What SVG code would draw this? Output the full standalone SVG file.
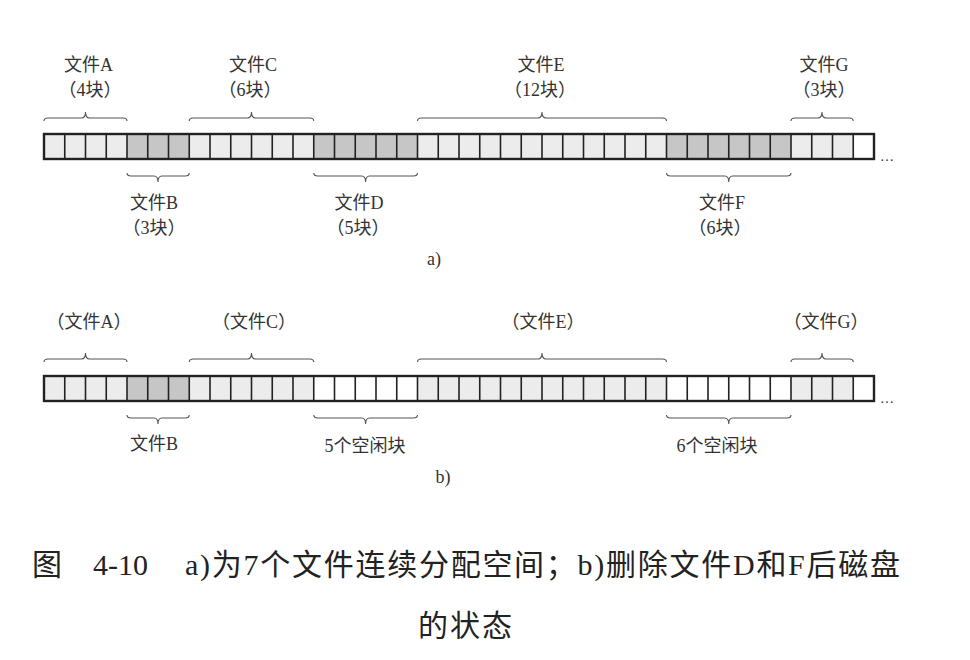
<svg xmlns="http://www.w3.org/2000/svg" width="970" height="660" viewBox="0 0 970 660">
<style>
.t{font-family:"Liberation Serif","Noto Sans CJK SC",serif;font-size:18px;fill:#333;text-anchor:middle}
.cap{font-family:"Liberation Serif","Noto Sans CJK SC",serif;font-size:30px;fill:#222}
.lt{fill:#ececec}.dk{fill:#c6c6c6}.wh{fill:#fff}
.div{stroke:#222;stroke-width:1.6;fill:none}
.out{stroke:#222;stroke-width:2.4;fill:none}
.br{stroke:#555;stroke-width:1.1;fill:none}
</style>
<rect width="970" height="660" fill="#fff"/>

<!-- strip a -->
<g id="strip-a">
<rect id="a-A" class="lt" x="44" y="134" width="83" height="25"/>
<rect id="a-B" class="dk" x="127" y="134" width="62.25" height="25"/>
<rect id="a-C" class="lt" x="189.25" y="134" width="124.5" height="25"/>
<rect id="a-D" class="dk" x="313.75" y="134" width="103.75" height="25"/>
<rect id="a-E" class="lt" x="417.5" y="134" width="249" height="25"/>
<rect id="a-F" class="dk" x="666.5" y="134" width="124.5" height="25"/>
<rect id="a-G" class="lt" x="791" y="134" width="62.25" height="25"/>
<rect id="a-free" class="wh" x="853.25" y="134" width="20.75" height="25"/>
<path class="div" d="M64.75,134V159M85.5,134V159M106.25,134V159M127,134V159M147.75,134V159M168.5,134V159M189.25,134V159M210,134V159M230.75,134V159M251.5,134V159M272.25,134V159M293,134V159M313.75,134V159M334.5,134V159M355.25,134V159M376,134V159M396.75,134V159M417.5,134V159M438.25,134V159M459,134V159M479.75,134V159M500.5,134V159M521.25,134V159M542,134V159M562.75,134V159M583.5,134V159M604.25,134V159M625,134V159M645.75,134V159M666.5,134V159M687.25,134V159M708,134V159M728.75,134V159M749.5,134V159M770.25,134V159M791,134V159M811.75,134V159M832.5,134V159M853.25,134V159"/>
<rect class="out" x="44" y="134" width="830" height="25"/>
<text class="t" x="887" y="161" style="text-anchor:middle;font-size:14px">…</text>
</g>

<!-- strip b -->
<g id="strip-b">
<rect id="b-A" class="lt" x="44" y="376" width="83" height="25"/>
<rect id="b-B" class="dk" x="127" y="376" width="62.25" height="25"/>
<rect id="b-C" class="lt" x="189.25" y="376" width="124.5" height="25"/>
<rect id="b-free5" class="wh" x="313.75" y="376" width="103.75" height="25"/>
<rect id="b-E" class="lt" x="417.5" y="376" width="249" height="25"/>
<rect id="b-free6" class="wh" x="666.5" y="376" width="124.5" height="25"/>
<rect id="b-G" class="lt" x="791" y="376" width="62.25" height="25"/>
<rect id="b-free" class="wh" x="853.25" y="376" width="20.75" height="25"/>
<path class="div" d="M64.75,376V401M85.5,376V401M106.25,376V401M127,376V401M147.75,376V401M168.5,376V401M189.25,376V401M210,376V401M230.75,376V401M251.5,376V401M272.25,376V401M293,376V401M313.75,376V401M334.5,376V401M355.25,376V401M376,376V401M396.75,376V401M417.5,376V401M438.25,376V401M459,376V401M479.75,376V401M500.5,376V401M521.25,376V401M542,376V401M562.75,376V401M583.5,376V401M604.25,376V401M625,376V401M645.75,376V401M666.5,376V401M687.25,376V401M708,376V401M728.75,376V401M749.5,376V401M770.25,376V401M791,376V401M811.75,376V401M832.5,376V401M853.25,376V401"/>
<rect class="out" x="44" y="376" width="830" height="25"/>
<text class="t" x="887" y="403" style="text-anchor:middle;font-size:14px">…</text>
</g>

<!-- braces -->
<g id="connectors">
<!-- a top -->
<path class="br" d="M44,121Q44,118 48,118L81.5,118Q85.5,118 85.5,112Q85.5,118 89.5,118L123,118Q127,118 127,121"/>
<path class="br" d="M189.25,121Q189.25,118 193.25,118L247.5,118Q251.5,118 251.5,112Q251.5,118 255.5,118L309.75,118Q313.75,118 313.75,121"/>
<path class="br" d="M417.5,121Q417.5,118 421.5,118L538,118Q542,118 542,112Q542,118 546,118L662.5,118Q666.5,118 666.5,121"/>
<path class="br" d="M791,121Q791,118 795,118L818,118Q822,118 822,112Q822,118 826,118L849.25,118Q853.25,118 853.25,121"/>
<!-- a bottom -->
<path class="br" d="M127,173Q127,176 131,176L154,176Q158,176 158,182Q158,176 162,176L185.25,176Q189.25,176 189.25,173"/>
<path class="br" d="M313.75,173Q313.75,176 317.75,176L361.6,176Q365.6,176 365.6,182Q365.6,176 369.6,176L413.5,176Q417.5,176 417.5,173"/>
<path class="br" d="M666.5,173Q666.5,176 670.5,176L724.75,176Q728.75,176 728.75,182Q728.75,176 732.75,176L787,176Q791,176 791,173"/>
<!-- b top -->
<path class="br" d="M44,362Q44,359 48,359L81.5,359Q85.5,359 85.5,353Q85.5,359 89.5,359L123,359Q127,359 127,362"/>
<path class="br" d="M189.25,362Q189.25,359 193.25,359L247.5,359Q251.5,359 251.5,353Q251.5,359 255.5,359L309.75,359Q313.75,359 313.75,362"/>
<path class="br" d="M417.5,362Q417.5,359 421.5,359L538,359Q542,359 542,353Q542,359 546,359L662.5,359Q666.5,359 666.5,362"/>
<path class="br" d="M791,362Q791,359 795,359L818,359Q822,359 822,353Q822,359 826,359L849.25,359Q853.25,359 853.25,362"/>
<!-- b bottom -->
<path class="br" d="M127,415Q127,418 131,418L154,418Q158,418 158,424Q158,418 162,418L185.25,418Q189.25,418 189.25,415"/>
<path class="br" d="M313.75,415Q313.75,418 317.75,418L361.6,418Q365.6,418 365.6,424Q365.6,418 369.6,418L413.5,418Q417.5,418 417.5,415"/>
<path class="br" d="M666.5,415Q666.5,418 670.5,418L724.75,418Q728.75,418 728.75,424Q728.75,418 732.75,418L787,418Q791,418 791,415"/>
</g>

<!-- labels a -->
<g id="label-a-A"><text class="t" x="88.5" y="71">文件A</text><text class="t" x="90" y="96">（4块）</text></g>
<g id="label-a-C"><text class="t" x="253" y="71">文件C</text><text class="t" x="250" y="96">（6块）</text></g>
<g id="label-a-E"><text class="t" x="541" y="71">文件E</text><text class="t" x="540" y="96">（12块）</text></g>
<g id="label-a-G"><text class="t" x="824" y="71">文件G</text><text class="t" x="824" y="96">（3块）</text></g>
<g id="label-a-B"><text class="t" x="154" y="209">文件B</text><text class="t" x="154" y="234">（3块）</text></g>
<g id="label-a-D"><text class="t" x="359" y="209">文件D</text><text class="t" x="358" y="234">（5块）</text></g>
<g id="label-a-F"><text class="t" x="722" y="209">文件F</text><text class="t" x="720" y="234">（6块）</text></g>
<text class="t" x="434" y="265">a)</text>

<!-- labels b -->
<g id="label-b-A"><text class="t" x="89" y="328">（文件A）</text></g>
<g id="label-b-C"><text class="t" x="254" y="328">（文件C）</text></g>
<g id="label-b-E"><text class="t" x="543" y="328">（文件E）</text></g>
<g id="label-b-G"><text class="t" x="826" y="328">（文件G）</text></g>
<g id="label-b-B"><text class="t" x="154" y="450">文件B</text></g>
<g id="label-b-free5"><text class="t" x="365" y="452">5个空闲块</text></g>
<g id="label-b-free6"><text class="t" x="717" y="452">6个空闲块</text></g>
<text class="t" x="443" y="483">b)</text>

<!-- caption -->
<g id="caption">
<text class="cap" x="32" y="575">图</text>
<text class="cap" x="93" y="575">4-10</text>
<text class="cap" x="185" y="575" textLength="715" lengthAdjust="spacing">a)为7个文件连续分配空间；b)删除文件D和F后磁盘</text>
<text class="cap" x="418" y="636" textLength="94" lengthAdjust="spacing">的状态</text>
</g>
</svg>
